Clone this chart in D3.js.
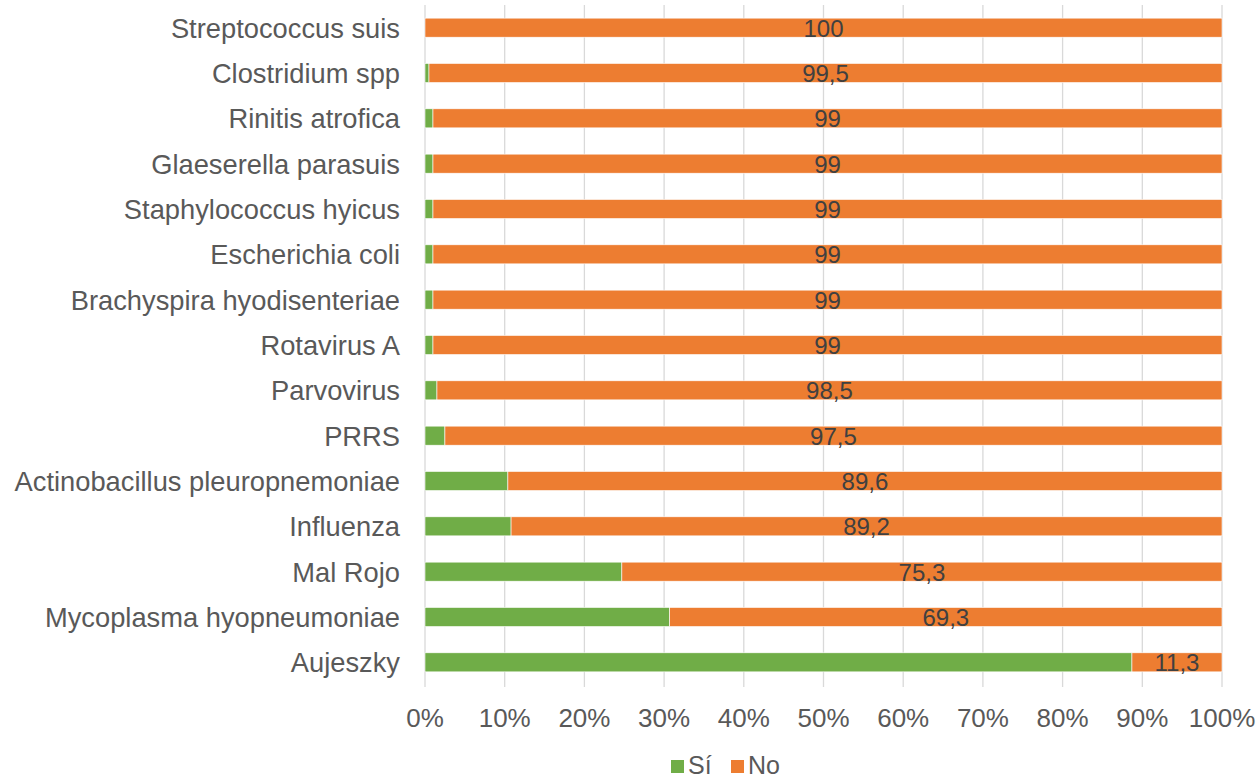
<!DOCTYPE html>
<html>
<head>
<meta charset="utf-8">
<script src="https://cdn.jsdelivr.net/npm/d3@7"></script>
<style>
  body { margin: 0; background: #fff; }
  text { font-family: "Liberation Sans", Arial, sans-serif; }
</style>
</head>
<body>
<svg id="chart" width="1259" height="780"></svg>
<script>
// categories, top to bottom
var categories = ["Streptococcus suis", "Clostridium spp", "Rinitis atrofica", "Glaeserella parasuis",
    "Staphylococcus hyicus", "Escherichia coli", "Brachyspira hyodisenteriae", "Rotavirus A",
    "Parvovirus", "PRRS", "Actinobacillus pleuropnemoniae", "Influenza", "Mal Rojo",
    "Mycoplasma hyopneumoniae", "Aujeszky"];
var siValues = [0, 0.5, 1, 1, 1, 1, 1, 1, 1.5, 2.5, 10.4, 10.8, 24.7, 30.7, 88.7];
var noValues = [100, 99.5, 99, 99, 99, 99, 99, 99, 98.5, 97.5, 89.6, 89.2, 75.3, 69.3, 11.3];
var noLabels = ["100", "99,5", "99", "99", "99", "99", "99", "99", "98,5", "97,5", "89,6", "89,2", "75,3", "69,3", "11,3"];
var ticks = [0, 10, 20, 30, 40, 50, 60, 70, 80, 90, 100];
var seriesNames = ["Sí", "No"];
var colors = ["#70AD47", "#ED7D31"];

var svg = d3.select("#chart");

var x = d3.scaleLinear().domain([0, 100]).range([425, 1222]);
var y = d3.scaleBand().domain(categories).range([5, 685]).paddingInner(0.58).paddingOuter(0.29);

// gridlines
svg.append("g").selectAll("line")
    .data(ticks).enter().append("line")
    .attr("x1", d => x(d)).attr("x2", d => x(d))
    .attr("y1", 5).attr("y2", 687)
    .attr("stroke", "#d9d9d9").attr("stroke-width", 1.3);

// tick labels
svg.append("g").selectAll("text")
    .data(ticks).enter().append("text")
    .attr("x", d => x(d)).attr("y", 727)
    .attr("text-anchor", "middle")
    .attr("font-size", 26).attr("fill", "#595959")
    .text(d => d + "%");

// category labels
svg.append("g").selectAll("text")
    .data(categories).enter().append("text")
    .attr("x", 400).attr("y", d => y(d) + y.bandwidth() / 2)
    .attr("dy", "0.37em")
    .attr("text-anchor", "end")
    .attr("font-size", 27.3).attr("fill", "#595959")
    .text(d => d);

// bars
var rows = categories.map(function(c, i) {
    return {cat: c, si: siValues[i], no: noValues[i], label: noLabels[i]};
});

var g = svg.append("g");
g.selectAll("rect.si")
    .data(rows).enter().append("rect")
    .attr("class", "si")
    .attr("x", x(0)).attr("y", d => y(d.cat))
    .attr("width", d => x(d.si) - x(0)).attr("height", y.bandwidth())
    .attr("fill", colors[0]).attr("stroke", "#fff").attr("stroke-width", 0.6);

g.selectAll("rect.no")
    .data(rows).enter().append("rect")
    .attr("class", "no")
    .attr("x", d => x(d.si)).attr("y", d => y(d.cat))
    .attr("width", d => x(d.si + d.no) - x(d.si)).attr("height", y.bandwidth())
    .attr("fill", colors[1]).attr("stroke", "#fff").attr("stroke-width", 0.6);

g.selectAll("text")
    .data(rows).enter().append("text")
    .attr("x", d => x(d.si + d.no / 2)).attr("y", d => y(d.cat) + y.bandwidth() / 2)
    .attr("dy", "0.37em")
    .attr("text-anchor", "middle")
    .attr("font-size", 24).attr("fill", "#404040")
    .text(d => d.label);

// legend
var legend = svg.append("g");
var lx = [671, 731];
seriesNames.forEach(function(s, i) {
    legend.append("rect")
        .attr("x", lx[i]).attr("y", 760).attr("width", 13).attr("height", 13)
        .attr("fill", colors[i]);
    legend.append("text")
        .attr("x", lx[i] + 17).attr("y", 774)
        .attr("font-size", 25).attr("fill", "#595959")
        .text(s);
});
</script>
</body>
</html>
